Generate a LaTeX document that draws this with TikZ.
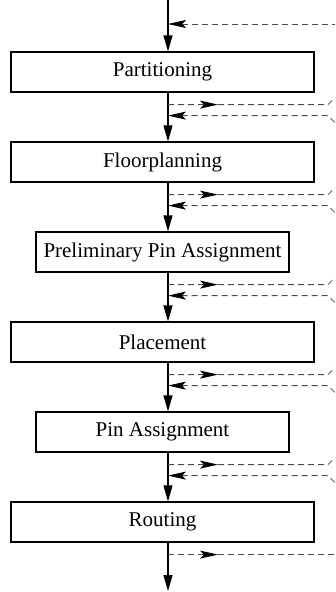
\documentclass[tikz,border=0pt]{standalone}
\usepackage{fontspec}
\setmainfont{Liberation Serif}
\usetikzlibrary{arrows.meta,decorations.markings}

\begin{document}
\begin{tikzpicture}[x=1pt, y=-1pt,
  stepbox/.style={draw, line width=1.2pt, minimum height=40pt, inner sep=0pt,
    font=\fontsize{21}{25}\selectfont},
  flow/.style={line width=1.2pt, -{Triangle[length=16pt,width=9pt]}},
  fb/.style={dash pattern=on 6pt off 4pt, line width=0.8pt, black!70},
  fbout/.style={fb, postaction={decorate}, decoration={markings,
    mark=at position 50pt with {\arrow{Stealth[length=18pt,width=8pt,inset=4pt,color=black]}}}},
  fbin/.style={fb, {Stealth[length=18pt,width=8pt,inset=4pt,color=black]}-}]

  \useasboundingbox (0,0) rectangle (335,592);
  \clip (0,0) rectangle (335,592);

  \coordinate (top) at (168,0);
  \coordinate (bot) at (168,591);

  \node[stepbox, minimum width=303pt] (part)  at (162.5, 72) {Partitioning};
  \node[stepbox, minimum width=303pt] (floor) at (162.5,162) {Floorplanning};
  \node[stepbox, minimum width=253pt] (ppin)  at (162.5,252) {Preliminary Pin Assignment};
  \node[stepbox, minimum width=303pt] (place) at (162.5,342) {Placement};
  \node[stepbox, minimum width=253pt] (pin)   at (162.5,432) {Pin Assignment};
  \node[stepbox, minimum width=303pt] (route) at (162.5,522) {Routing};

  %% main flow
  \draw[flow] (top) -- (part.north -| top);
  \foreach \a/\b in {part/floor, floor/ppin, ppin/place, place/pin, pin/route}
    \draw[flow] (\a.south -| top) -- (\b.north -| top);
  \draw[flow] (route.south -| top) -- (bot);

  %% taps on the main line
  \coordinate (in0) at (168,24);
  \foreach \s in {part, floor, ppin, place, pin, route}
    \path (\s.south -| top) ++(0,12) coordinate (\s-o) ++(0,11) coordinate (\s-i);

  %% feedback lines
  \draw[fbin] (in0) -- ++(170,0);
  \foreach \s in {part, floor, ppin, place, pin}{
    \draw[fbout] (\s-o) -- ++(160,0) -- ++(10,-10); % out, bends up
    \draw[fbin] (\s-i) -- ++(160,0) -- ++(10,10);   % in, bends down
  }
  \draw[fbout] (route-o) -- ++(170,0);

\end{tikzpicture}
\end{document}
